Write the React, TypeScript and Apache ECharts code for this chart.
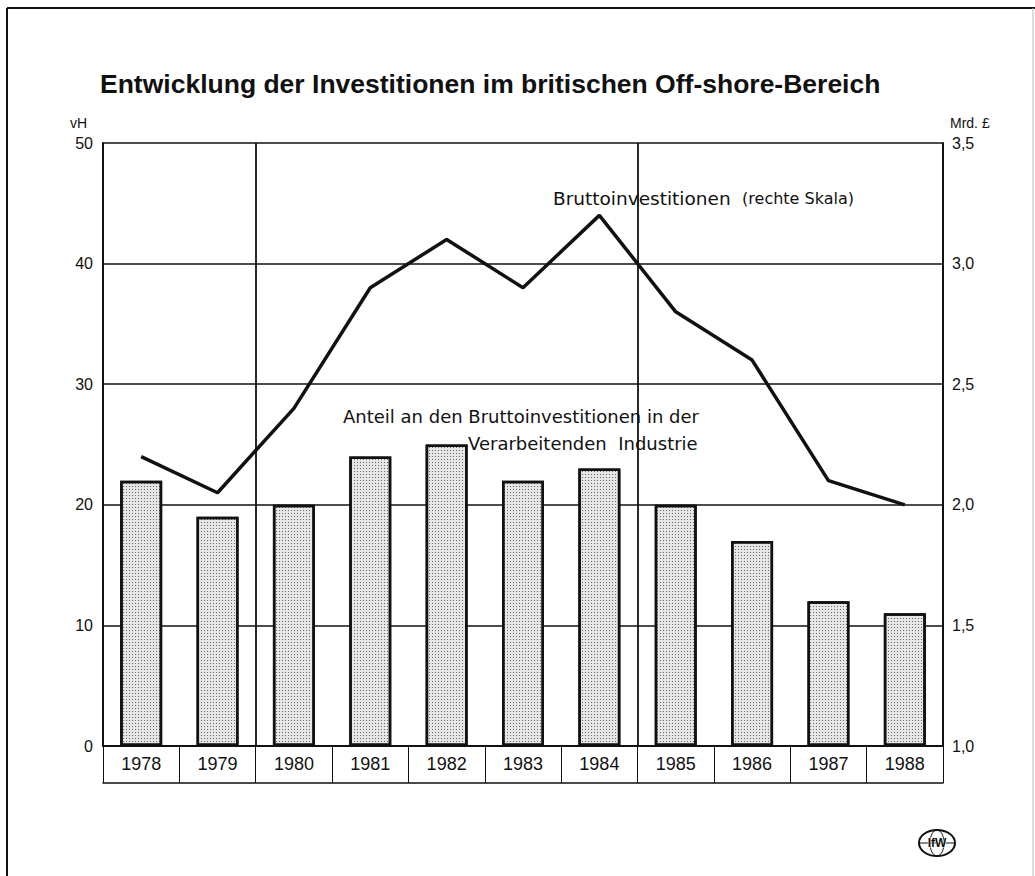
import React, { useEffect, useRef } from "react";
import * as echarts from "echarts";

const years = ["1978", "1979", "1980", "1981", "1982", "1983", "1984", "1985", "1986", "1987", "1988"];
const shareValues = [22, 19, 20, 24, 25, 22, 23, 20, 17, 12, 11];
const grossInvest = [2.2, 2.05, 2.4, 2.9, 3.1, 2.9, 3.2, 2.8, 2.6, 2.1, 2.0];
const leftTicks = { min: 0, max: 50, interval: 10 };
const rightTicks = { min: 1, max: 3.5, interval: 0.5 };

const FONT = "'Liberation Sans', Arial, sans-serif";
const FONT2 = "'DejaVu Sans', 'Liberation Sans', sans-serif";

export default function App() {
  const ref = useRef<HTMLDivElement>(null);
  useEffect(() => {
    if (!ref.current) return;
    const chart = echarts.init(ref.current, undefined, { renderer: "svg" });
    const option: any = {
      animation: false,
      backgroundColor: "#ffffff",
      textStyle: { fontFamily: FONT, color: "#111" },
      title: {
        text: "Entwicklung der Investitionen im britischen Off-shore-Bereich",
        left: 95,
        top: 65,
        textStyle: { fontSize: 26.5, fontWeight: "bold", color: "#111", fontFamily: FONT },
      },
      grid: { left: 103, right: 92, top: 143, bottom: 130, containLabel: false },
      xAxis: [
        {
          type: "category",
          data: years,
          position: "bottom",
          axisLine: { show: true, lineStyle: { color: "#111", width: 2 } },
          axisTick: { show: true, interval: 0, length: 37, lineStyle: { color: "#111", width: 1 } },
          axisLabel: { interval: 0, fontSize: 18, color: "#111", margin: 9, fontFamily: FONT },
          splitLine: {
            show: true,
            interval: (i: number) => i === 2 || i === 7,
            lineStyle: { color: "#111", width: 1.8 },
          },
        },
        {
          type: "category",
          data: years,
          position: "bottom",
          offset: 37,
          axisLine: { show: true, lineStyle: { color: "#111", width: 1.5 } },
          axisTick: { show: false },
          axisLabel: { show: false },
          splitLine: { show: false },
        },
      ],
      yAxis: [
        {
          type: "value",
          min: leftTicks.min,
          max: leftTicks.max,
          interval: leftTicks.interval,
          position: "left",
          axisLine: { show: true, lineStyle: { color: "#111", width: 2 } },
          axisTick: { show: false },
          axisLabel: { fontSize: 16, color: "#111", margin: 10, fontFamily: FONT },
          splitLine: { show: true, lineStyle: { color: "#111", width: 1.5 } },
        },
        {
          type: "value",
          min: rightTicks.min,
          max: rightTicks.max,
          interval: rightTicks.interval,
          position: "right",
          axisLine: { show: true, lineStyle: { color: "#111", width: 2 } },
          axisTick: { show: false },
          axisLabel: {
            fontSize: 16,
            color: "#111",
            margin: 9,
            fontFamily: FONT,
            formatter: (v: number) => v.toFixed(1).replace(".", ","),
          },
          splitLine: { show: false },
        },
      ],
      series: [
        {
          type: "bar",
          name: "Anteil",
          xAxisIndex: 0,
          yAxisIndex: 0,
          data: shareValues,
          barWidth: "55%",
          itemStyle: {
            color: "#e6e6e6",
            borderColor: "#111",
            borderWidth: 2.5,
            decal: {
              symbol: "rect",
              symbolSize: 1,
              dashArrayX: [1, 1.5],
              dashArrayY: [1, 1.5],
              color: "rgba(0,0,0,0.55)",
              rotation: 0,
            },
          },
          z: 2,
        },
        {
          type: "line",
          name: "Bruttoinvestitionen",
          xAxisIndex: 0,
          yAxisIndex: 1,
          data: grossInvest,
          symbol: "none",
          lineStyle: { color: "#111", width: 3.5 },
          z: 3,
        },
      ],
      graphic: [
        { type: "line", shape: { x1: 7, y1: 8, x2: 1035, y2: 8 }, style: { stroke: "#111", lineWidth: 2 } },
        { type: "line", shape: { x1: 7, y1: 8, x2: 7, y2: 876 }, style: { stroke: "#111", lineWidth: 2 } },
        { type: "line", shape: { x1: 1033, y1: 8, x2: 1033, y2: 876 }, style: { stroke: "#bbb", lineWidth: 1 } },
        {
          type: "text",
          x: 87,
          y: 123,
          style: { text: "vH", fontSize: 14, fontFamily: FONT, fill: "#111", align: "right", verticalAlign: "middle" },
        },
        {
          type: "text",
          x: 950,
          y: 123,
          style: { text: "Mrd. £", fontSize: 14, fontFamily: FONT, fill: "#111", align: "left", verticalAlign: "middle" },
        },
        {
          type: "text",
          x: 553,
          y: 198,
          style: {
            text: "{a|Bruttoinvestitionen}   {b|(rechte Skala)}",
            fontFamily: FONT2,
            verticalAlign: "middle",
            rich: {
              a: { fontSize: 18.5, fontFamily: FONT2, fill: "#111" },
              b: { fontSize: 16, fontFamily: FONT2, fill: "#111" },
            },
          },
        },
        {
          type: "text",
          x: 343,
          y: 416,
          style: {
            text: "Anteil an den Bruttoinvestitionen in der",
            fontSize: 18,
            fontFamily: FONT2,
            fill: "#111",
            verticalAlign: "middle",
          },
        },
        {
          type: "text",
          x: 468,
          y: 443,
          style: {
            text: "Verarbeitenden  Industrie",
            fontSize: 18,
            fontFamily: FONT2,
            fill: "#111",
            verticalAlign: "middle",
          },
        },
        {
          type: "group",
          x: 937,
          y: 843,
          children: [
            { type: "ellipse", shape: { cx: 0, cy: 0, rx: 18, ry: 13 }, style: { fill: "#fff", stroke: "#111", lineWidth: 2 } },
            { type: "line", shape: { x1: -18, y1: 0, x2: 18, y2: 0 }, style: { stroke: "#111", lineWidth: 1 } },
            { type: "ellipse", shape: { cx: 0, cy: 0, rx: 7, ry: 13 }, style: { fill: "none", stroke: "#111", lineWidth: 1 } },
            {
              type: "text",
              x: 0,
              y: 0,
              style: {
                text: "IfW",
                fontSize: 12,
                fontWeight: "bold",
                fontFamily: FONT,
                fill: "#111",
                stroke: "#fff",
                lineWidth: 1,
                align: "center",
                verticalAlign: "middle",
              },
            },
          ],
        },
      ],
    };
    chart.setOption(option);
    return () => chart.dispose();
  }, []);
  return (
    <div
      ref={ref}
      style={{ position: "fixed", left: 0, top: 0, width: 1035, height: 876, background: "#fff" }}
    />
  );
}
